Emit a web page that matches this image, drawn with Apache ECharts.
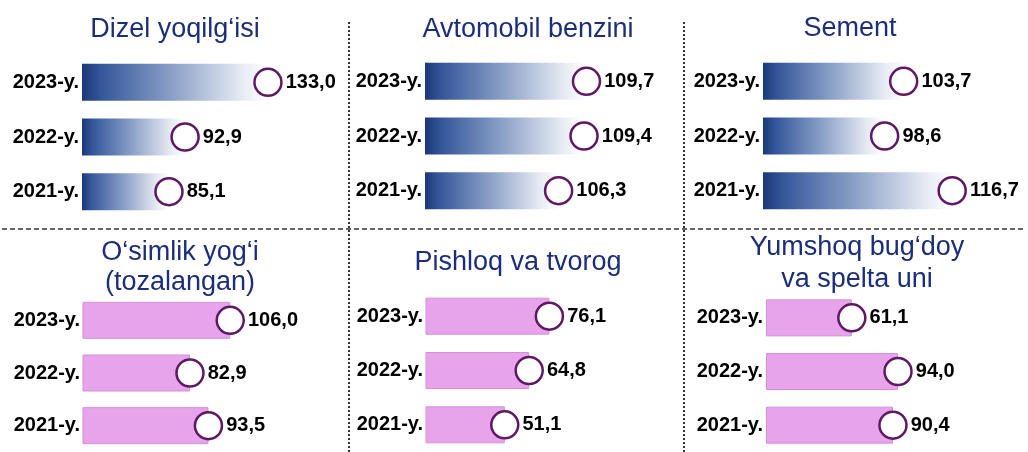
<!DOCTYPE html>
<html>
<head>
<meta charset="utf-8">
<script src="https://cdn.jsdelivr.net/npm/echarts@6/dist/echarts.min.js"></script>
<style>
  html, body { margin: 0; padding: 0; background: #ffffff; }
  #chart { width: 1028px; height: 452px; }
</style>
</head>
<body>
<div id="chart"></div>
<script>
// Years shown on every panel (top row first)
const years = ['2023-y.', '2022-y.', '2021-y.'];

// Panel titles
const titles = [
  'Dizel yoqilg‘isi',
  'Avtomobil benzini',
  'Sement',
  'O‘simlik yog‘i\n(tozalangan)',
  'Pishloq va tvorog',
  'Yumshoq bug‘doy\nva spelta uni'
];

// Values per product, in the order of `years`
const dizel = [133.0, 92.9, 85.1];
const benzin = [109.7, 109.4, 106.3];
const sement = [103.7, 98.6, 116.7];
const osimlikYogi = [106.0, 82.9, 93.5];
const pishloq = [76.1, 64.8, 51.1];
const bugdoyUni = [61.1, 94.0, 90.4];

const seriesValues = [dizel, benzin, sement, osimlikYogi, pishloq, bugdoyUni];

// Layout of each small panel: grid placement, axis range, title anchor, bar style
const panels = [
  { left: 82,  top: 55,  height: 164, min: 43,   max: 164,   tx: 175, ty: [30],       style: 'blue' },
  { left: 425, top: 54,  height: 164, min: 90,   max: 120.5, tx: 528, ty: [30],       style: 'blue' },
  { left: 763, top: 54,  height: 164, min: 66,   max: 133,   tx: 850, ty: [29],       style: 'blue' },
  { left: 83,  top: 294, height: 168, min: 21.5, max: 165,   tx: 180, ty: [253, 283], style: 'pink' },
  { left: 426, top: 289, height: 168, min: 7,    max: 147,   tx: 518, ty: [263],      style: 'pink' },
  { left: 766, top: 291, height: 168, min: 0,    max: 178,   tx: 857, ty: [248, 280], style: 'pink' }
];

const GRID_W = 250;
const labelFont = "'Liberation Sans', Arial, sans-serif";
const fmt = v => v.toFixed(1).replace('.', ',');

const blueGradient = new echarts.graphic.LinearGradient(0, 0, 1, 0, [
  { offset: 0, color: '#1a3876' },
  { offset: 0.1, color: '#33569a' },
  { offset: 0.5, color: '#8ea3c9' },
  { offset: 0.85, color: '#e4e9f2' },
  { offset: 1, color: '#ffffff' }
]);

const grid = [], xAxis = [], yAxis = [], series = [], title = [];

panels.forEach((p, i) => {
  grid.push({ left: p.left, top: p.top, width: GRID_W, height: p.height });
  xAxis.push({ type: 'value', gridIndex: i, min: p.min, max: p.max, show: false });
  yAxis.push({
    type: 'category', gridIndex: i, data: years, inverse: true,
    axisLine: { show: false }, axisTick: { show: false }, splitLine: { show: false },
    axisLabel: {
      margin: 3, color: '#000', fontSize: 20, fontWeight: 'bold', fontFamily: labelFont
    }
  });

  const vals = seriesValues[i];
  series.push({
    type: 'bar', xAxisIndex: i, yAxisIndex: i,
    data: vals, barWidth: 37, silent: true,
    itemStyle: p.style === 'blue'
      ? { color: blueGradient }
      : { color: '#e7a4ea', borderColor: '#d48fd9', borderWidth: 1 }
  });
  series.push({
    type: 'scatter', xAxisIndex: i, yAxisIndex: i,
    data: vals.map((v, k) => [v, years[k]]),
    symbol: 'circle', symbolSize: 27, silent: true,
    itemStyle: { color: '#ffffff', borderColor: '#5e1864', borderWidth: 2.5, opacity: 1 },
    label: {
      show: true, position: 'right', distance: 3,
      formatter: d => fmt(d.value[0]),
      color: '#000', fontSize: 20, fontWeight: 'bold', fontFamily: labelFont
    },
    z: 3
  });

  const lines = titles[i].split('\n');
  lines.forEach((t, j) => {
    title.push({
      text: t, left: p.tx, top: p.ty[j], padding: 0,
      textAlign: 'center', textVerticalAlign: 'middle',
      textStyle: { color: '#1b2d7c', fontSize: 27, fontWeight: 'normal', fontFamily: labelFont }
    });
  });
});

// Panel separators
const graphic = [
  { type: 'line', shape: { x1: 349, y1: 22, x2: 349, y2: 452 },
    style: { stroke: '#333', lineWidth: 2, lineDash: [2, 2] }, silent: true },
  { type: 'line', shape: { x1: 684, y1: 22, x2: 684, y2: 452 },
    style: { stroke: '#333', lineWidth: 2, lineDash: [2, 2] }, silent: true },
  { type: 'line', shape: { x1: 2, y1: 229, x2: 1026, y2: 229 },
    style: { stroke: '#333', lineWidth: 1.5, lineDash: [5, 3] }, silent: true }
];

const chart = echarts.init(document.getElementById('chart'), null, { renderer: 'canvas' });
chart.setOption({
  backgroundColor: '#ffffff',
  animation: false,
  title, grid, xAxis, yAxis, series, graphic
});
</script>
</body>
</html>
